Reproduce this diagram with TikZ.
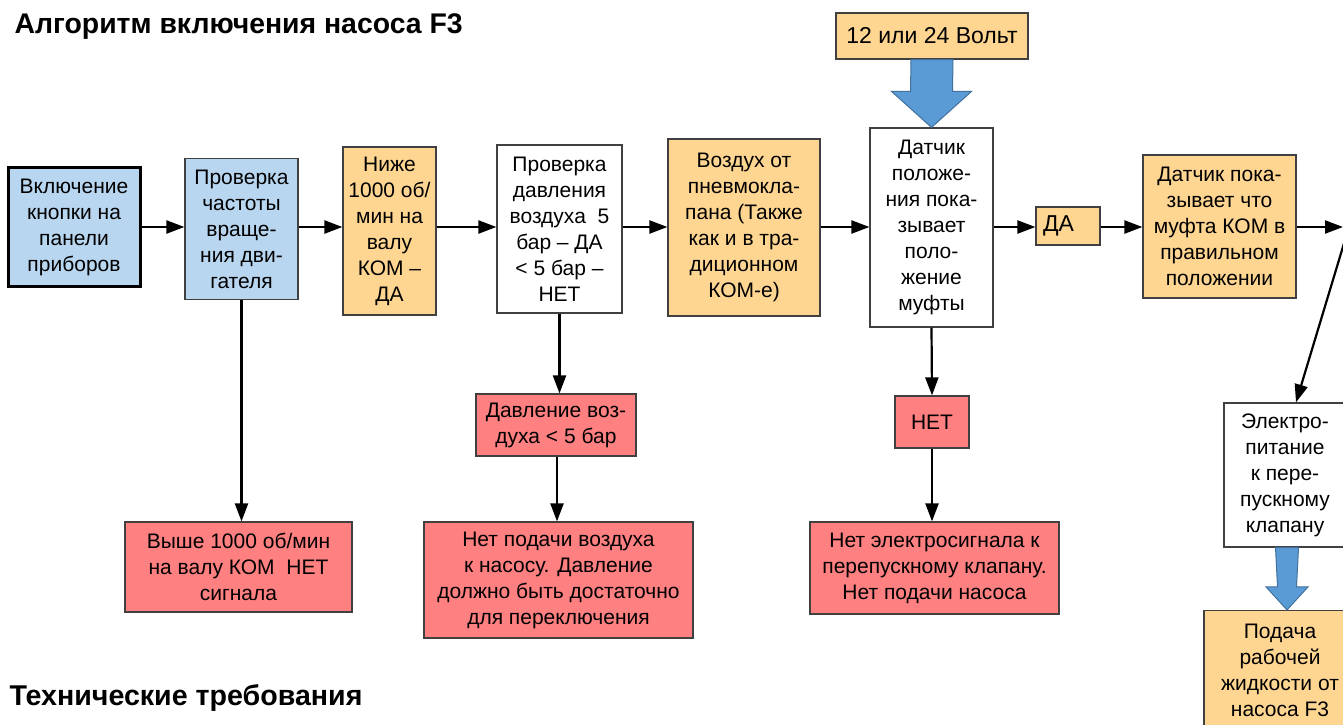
\documentclass[tikz,border=0pt]{standalone}
\usepackage{fontspec}
\setmainfont{Liberation Sans}
\usetikzlibrary{arrows.meta,calc}
\definecolor{boxblue}{RGB}{184,214,240}
\definecolor{boxorange}{RGB}{255,214,145}
\definecolor{boxred}{RGB}{255,128,128}
\definecolor{fatfill}{RGB}{91,155,213}
\definecolor{fatline}{RGB}{65,113,156}
\begin{document}
\begin{tikzpicture}[x=1pt,y=-1pt,>={Triangle[length=18pt,width=13pt]},
  box/.style={draw=black!75,line width=1.2pt,align=center,inner sep=0pt,
    font=\fontsize{21}{26}\selectfont},
  bluebox/.style={box,fill=boxblue},
  orangebox/.style={box,fill=boxorange},
  redbox/.style={box,fill=boxred},
  whitebox/.style={box,fill=white},
  conn/.style={->,line width=2.2pt},
  fat/.style={fill=fatfill,draw=fatline,line width=1pt}]
\path[use as bounding box,clip] (0,0) rectangle (1343,724);

\node[anchor=base west,font=\fontsize{28.4}{33}\selectfont\bfseries] (title) at (11,33) {Алгоритм включения насоса F3};
\node[anchor=base west,font=\fontsize{28.6}{33}\selectfont\bfseries] (tech) at (6,705) {Технические требования};

% main row
\node[bluebox,line width=3pt,draw=black,minimum width=132,minimum height=119] (btn) at (74,227) {Включение\\кнопки на\\панели\\приборов};
\node[bluebox,minimum width=113,minimum height=141] (rpm) at (241.5,229) {Проверка\\частоты\\враще-\\ния дви-\\гателя};
\node[orangebox,minimum width=93,minimum height=168] (low) at (389.5,231) {Ниже\\1000 об/\\мин на\\валу\\КОМ –\\ДА};
\node[whitebox,minimum width=125,minimum height=168] (pres) at (559.5,229) {Проверка\\давления\\воздуха \ 5\\бар – ДА\\< 5 бар –\\НЕТ};
\node[orangebox,minimum width=152,minimum height=177] (air) at (744,227.5) {Воздух от\\пневмокла-\\пана (Также\\как и в тра-\\диционном\\КОМ-е)};
\node[whitebox,minimum width=123,minimum height=199] (sens) at (931.5,227.5) {Датчик\\положе-\\ния пока-\\зывает\\поло-\\жение\\муфты};
\node[orangebox,minimum width=192,minimum height=46,font=\fontsize{23}{28}\selectfont] (volt) at (932,36) {12 или 24 Вольт};
\node[orangebox,minimum height=38,text width=54,align=left,inner xsep=5pt,font=\fontsize{23}{28}\selectfont] (yes) at (1068,226) {\hspace*{2pt}ДА};
\node[orangebox,minimum width=153,minimum height=143] (ok) at (1219.5,226.5) {Датчик пока-\\зывает что\\муфта КОМ в\\правильном\\положении};
\node[whitebox,minimum width=122,minimum height=144] (power) at (1285,475) {Электро-\\питание\\к пере-\\пускному\\клапану};
\node[orangebox,minimum width=152,minimum height=119] (feed) at (1280,670) {Подача\\рабочей\\жидкости от\\насоса F3};

% failure boxes
\node[redbox,minimum width=227,minimum height=90] (high) at (238.5,567) {Выше 1000 об/мин\\на валу КОМ \ НЕТ\\сигнала};
\node[redbox,minimum width=160,minimum height=62] (lowair) at (556,425) {Давление воз-\\духа < 5 бар};
\node[redbox,minimum width=269,minimum height=116] (noair) at (558.5,580) {Нет подачи воздуха\\к насосу. Давление\\должно быть достаточно\\для переключения};
\node[redbox,minimum width=74,minimum height=52] (no) at (932,422) {НЕТ};
\node[redbox,minimum width=249,minimum height=92] (nosig) at (934.5,568) {Нет электросигнала к\\перепускному клапану.\\Нет подачи насоса};

\coordinate (edge) at (1343,227);
\coordinate (entry) at (1345,240);

\draw[conn] (btn.east |- 0,227) -- (rpm.west |- 0,227);
\draw[conn] (rpm.east |- 0,227) -- (low.west |- 0,227);
\draw[conn] (low.east |- 0,227) -- (pres.west |- 0,227);
\draw[conn] (pres.east |- 0,227) -- (air.west |- 0,227);
\draw[conn] (air.east |- 0,227) -- (sens.west |- 0,227);
\draw[conn] (sens.east |- 0,227) -- (yes.west |- 0,227);
\draw[conn] (yes.east |- 0,227) -- (ok.west |- 0,227);
\draw[conn] (ok.east |- edge) -- (edge);
\draw[conn] (entry) -- ([xshift=11pt]power.north);

\draw[conn] (rpm.south) -- (rpm.south |- high.north);
\draw[conn] (pres.south) -- (pres.south |- lowair.north);
\draw[conn] ([xshift=1pt]lowair.south) -- ([xshift=1pt]lowair.south |- noair.north);
\draw[conn] (sens.south) -- (no.north);
\draw[conn] (no.south) -- (no.south |- nosig.north);

% block arrows
\draw[fat] ($(volt.south)+(-21,0)$) -- ($(sens.north)+(-21,-36)$) -- ($(sens.north)+(-40,-36)$)
  -- (sens.north) -- ($(sens.north)+(40,-36)$) -- ($(sens.north)+(21,-36)$) -- ($(volt.south)+(21,0)$) -- cycle;
\draw[fat] ($(power.south)+(-9.5,0)$) -- ($(feed.north)+(-2.5,-23)$) -- ($(feed.north)+(-14,-23)$)
  -- ($(feed.north)+(7,0)$) -- ($(feed.north)+(28,-23)$) -- ($(feed.north)+(16.5,-23)$) -- ($(power.south)+(13.5,0)$) -- cycle;
\end{tikzpicture}
\end{document}
